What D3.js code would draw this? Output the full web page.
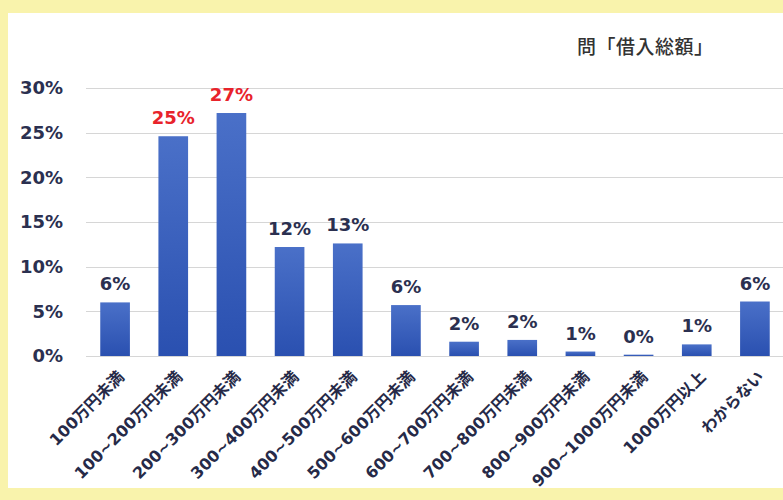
<!DOCTYPE html>
<html>
<head>
<meta charset="utf-8">
<script src="https://cdn.jsdelivr.net/npm/d3@7"></script>
<style>
  html, body { margin: 0; padding: 0; background: #fff; }
  svg { display: block; }
</style>
</head>
<body>
<svg id="chart"></svg>
<script>
// データ
const categories = ['100万円未満', '100~200万円未満', '200~300万円未満', '300~400万円未満',
  '400~500万円未満', '500~600万円未満', '600~700万円未満', '700~800万円未満',
  '800~900万円未満', '900~1000万円未満', '1000万円以上', 'わからない'];
const values = [6.0, 24.6, 27.2, 12.2, 12.6, 5.7, 1.6, 1.8, 0.5, 0.15, 1.3, 6.1];
const valueLabels = ['6%', '25%', '27%', '12%', '13%', '6%', '2%', '2%', '1%', '0%', '1%', '6%'];
const highlighted = ['25%', '27%'];
const yTicks = [0, 5, 10, 15, 20, 25, 30];
const title = '問「借入総額」';

const width = 783;
const height = 500;
const margin = { top: 88, right: -1, bottom: 144, left: 86 };

const svg = d3.select('#chart')
  .attr('width', width)
  .attr('height', height);

// 枠（黄色）
svg.append('rect')
  .attr('width', width).attr('height', height)
  .attr('fill', '#f9f3ac');
svg.append('rect')
  .attr('x', 8).attr('y', 13)
  .attr('width', width - 8).attr('height', 475)
  .attr('fill', '#ffffff');

const xScale = d3.scaleBand()
  .domain(categories)
  .range([margin.left, width - margin.right])
  .paddingInner(0.49)
  .paddingOuter(0.245);

const yScale = d3.scaleLinear()
  .domain([0, 30])
  .range([height - margin.bottom, margin.top]);

// グラデーション
const defs = svg.append('defs');
const grad = defs.append('linearGradient')
  .attr('id', 'bar-grad')
  .attr('x1', '0%').attr('y1', '0%')
  .attr('x2', '0%').attr('y2', '100%');
grad.append('stop').attr('offset', '0%').attr('stop-color', '#4a70c8');
grad.append('stop').attr('offset', '100%').attr('stop-color', '#2a50b0');

// 目盛線
svg.append('g')
  .selectAll('line')
  .data(yTicks)
  .enter()
  .append('line')
  .attr('x1', margin.left)
  .attr('x2', width)
  .attr('y1', d => Math.round(yScale(d)) + 0.5)
  .attr('y2', d => Math.round(yScale(d)) + 0.5)
  .attr('stroke', '#d6d6d6')
  .attr('stroke-width', 1);

// Y軸ラベル
svg.append('g')
  .selectAll('text')
  .data(yTicks)
  .enter()
  .append('text')
  .attr('x', 63)
  .attr('y', d => yScale(d))
  .attr('dy', '0.36em')
  .attr('text-anchor', 'end')
  .attr('font-family', '"DejaVu Sans", sans-serif')
  .attr('font-weight', 'bold')
  .attr('font-size', '18px')
  .attr('fill', '#2b3050')
  .text(d => d + '%');

// 棒
svg.append('g')
  .selectAll('rect')
  .data(values)
  .enter()
  .append('rect')
  .attr('x', (d, i) => xScale(categories[i]))
  .attr('y', d => yScale(d))
  .attr('width', xScale.bandwidth())
  .attr('height', d => yScale(0) - yScale(d))
  .attr('fill', 'url(#bar-grad)');

// 値ラベル
svg.append('g')
  .selectAll('text')
  .data(values)
  .enter()
  .append('text')
  .attr('x', (d, i) => xScale(categories[i]) + xScale.bandwidth() / 2)
  .attr('y', d => yScale(d) - 12)
  .attr('text-anchor', 'middle')
  .attr('font-family', '"DejaVu Sans", sans-serif')
  .attr('font-weight', 'bold')
  .attr('font-size', '18px')
  .attr('fill', (d, i) => highlighted.includes(valueLabels[i]) ? '#e8232b' : '#2b3050')
  .text((d, i) => valueLabels[i]);

// X軸ラベル（斜め）
svg.append('g')
  .selectAll('text')
  .data(categories)
  .enter()
  .append('text')
  .attr('transform', d => {
    const cx = xScale(d) + xScale.bandwidth() / 2 + 6;
    return `translate(${cx}, 374) rotate(-45)`;
  })
  .attr('text-anchor', 'end')
  .attr('dy', '0.35em')
  .attr('font-family', '"DejaVu Sans", "Noto Sans CJK JP", sans-serif')
  .attr('font-weight', 'bold')
  .attr('font-size', '16px')
  .attr('fill', '#262a48')
  .text(d => d);

// タイトル
svg.append('text')
  .attr('x', 577)
  .attr('y', 54)
  .attr('font-family', '"Noto Sans CJK JP", sans-serif')
  .attr('font-size', '19px')
  .attr('font-weight', 500)
  .attr('letter-spacing', '0.5px')
  .attr('fill', '#333333')
  .text(title);
</script>
</body>
</html>
